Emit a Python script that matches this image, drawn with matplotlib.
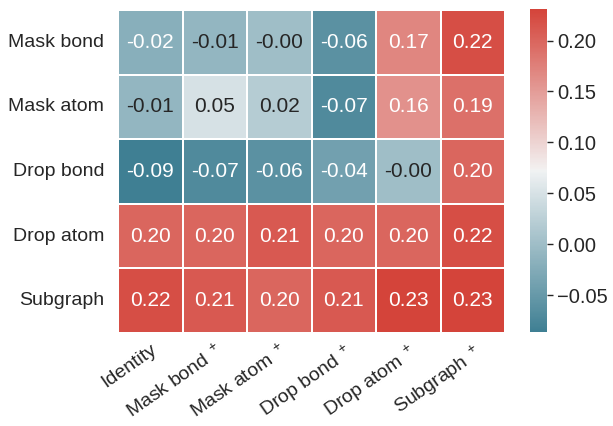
import numpy as np
import pandas as pd
import matplotlib
matplotlib.use("Agg")
import matplotlib.pyplot as plt
import seaborn as sns

rows = ["Mask bond", "Mask atom", "Drop bond", "Drop atom", "Subgraph"]
cols = ["Identity", "Mask bond $^+$", "Mask atom $^+$", "Drop bond $^+$", "Drop atom $^+$", "Subgraph $^+$"]

mask_bond = [-0.02, -0.01, -0.00, -0.06, 0.17, 0.22]
mask_atom = [-0.01, 0.05, 0.02, -0.07, 0.16, 0.19]
drop_bond = [-0.086, -0.07, -0.06, -0.04, -0.00, 0.20]
drop_atom = [0.20, 0.20, 0.21, 0.20, 0.20, 0.22]
subgraph = [0.22, 0.21, 0.20, 0.21, 0.231, 0.23]

data = pd.DataFrame([mask_bond, mask_atom, drop_bond, drop_atom, subgraph], index=rows, columns=cols)

sns.set_theme(style="ticks")
plt.rcParams['font.family'] = ['Liberation Sans', 'DejaVu Sans']
plt.rcParams['mathtext.fontset'] = 'custom'
plt.rcParams['mathtext.rm'] = 'Liberation Sans'
plt.rcParams['mathtext.it'] = 'Liberation Sans'

fig = plt.figure(figsize=(6.13, 4.26), dpi=100)
ax = fig.add_axes([0.1925, 0.2183, 0.6315, 0.7582])
cax = fig.add_axes([0.8646, 0.2207, 0.0277, 0.7583])

cmap = sns.diverging_palette(220, 14, as_cmap=True)
sns.heatmap(data, ax=ax, cbar_ax=cax, cmap=cmap, annot=True, fmt=".2f",
            linewidths=1.2, linecolor="white", annot_kws={"size": 15})

ax.tick_params(axis="y", length=0, labelsize=14, pad=10)
ax.tick_params(axis="x", length=0, labelsize=14, pad=6)
ax.set_xticklabels(cols, rotation=35, ha="right", rotation_mode="anchor")
ax.set_yticklabels(rows, rotation=0)
cax.tick_params(labelsize=14.5, length=4, width=1)
for s in cax.spines.values():
    s.set_visible(False)

fig.savefig("out.png", dpi=100)
